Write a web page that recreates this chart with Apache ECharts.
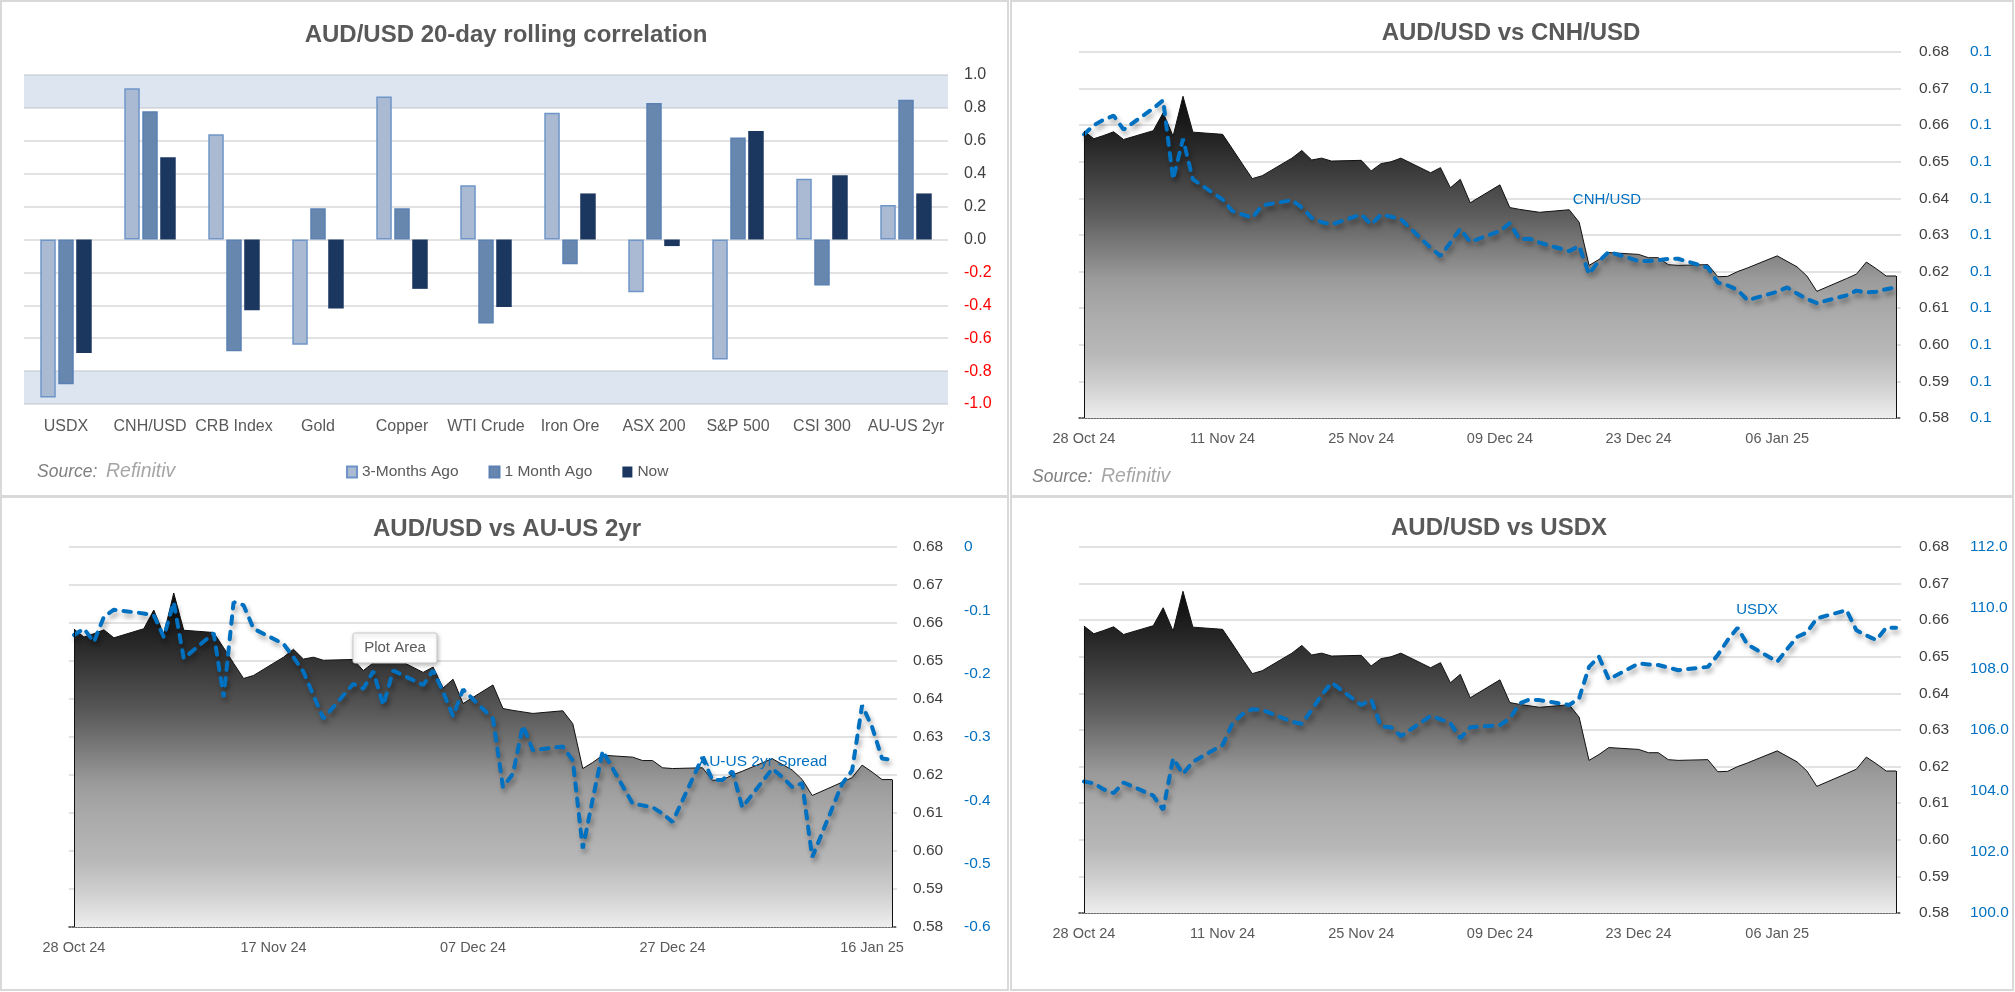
<!DOCTYPE html>
<html><head><meta charset="utf-8">
<script src="https://cdn.jsdelivr.net/npm/echarts@6/dist/echarts.min.js"></script>
<style>html,body{margin:0;padding:0;background:#fff}#c{width:2015px;height:992px}</style>
</head><body><div id="c"></div>
<script>
// ---------- Panel 1: correlation bars ----------
const corrCategories = ['USDX','CNH/USD','CRB Index','Gold','Copper','WTI Crude','Iron Ore','ASX 200','S&P 500','CSI 300','AU-US 2yr'];
const corr3M  = [-0.96, 0.92, 0.64, -0.64, 0.87, 0.33, 0.77, -0.32, -0.73, 0.37, 0.21];
const corr1M  = [-0.88, 0.78, -0.68, 0.19, 0.19, -0.51, -0.15, 0.83, 0.62, -0.28, 0.85];
const corrNow = [-0.69, 0.50, -0.43, -0.42, -0.30, -0.41, 0.28, -0.04, 0.66, 0.39, 0.28];
const corrSeriesNames = ['3-Months Ago','1 Month Ago','Now'];

// ---------- Time series (daily) ----------
const dates = ['2024-10-28','2024-10-29','2024-10-30','2024-10-31','2024-11-01',
'2024-11-04','2024-11-05','2024-11-06','2024-11-07','2024-11-08',
'2024-11-11','2024-11-12','2024-11-13','2024-11-14','2024-11-15',
'2024-11-18','2024-11-19','2024-11-20','2024-11-21','2024-11-22',
'2024-11-25','2024-11-26','2024-11-27','2024-11-28','2024-11-29',
'2024-12-02','2024-12-03','2024-12-04','2024-12-05','2024-12-06',
'2024-12-09','2024-12-10','2024-12-11','2024-12-12','2024-12-13',
'2024-12-16','2024-12-17','2024-12-18','2024-12-19','2024-12-20',
'2024-12-23','2024-12-24','2024-12-25','2024-12-26','2024-12-27',
'2024-12-30','2024-12-31','2025-01-01','2025-01-02','2025-01-03',
'2025-01-06','2025-01-07','2025-01-08','2025-01-09','2025-01-10',
'2025-01-13','2025-01-14','2025-01-15','2025-01-16','2025-01-17',
'2025-01-18'];
const audusd = [0.6584,0.6563,0.6572,0.6582,0.6561,
0.6585,0.6634,0.6570,0.6679,0.6581,
0.6575,0.6535,0.6494,0.6454,0.6462,
0.6510,0.6531,0.6505,0.6510,0.6502,
0.6504,0.6475,0.6495,0.6500,0.6510,
0.6470,0.6484,0.6429,0.6452,0.6388,
0.6437,0.6375,0.6370,0.6366,0.6362,
0.6369,0.6335,0.6217,0.6233,0.6252,
0.6247,0.6238,0.6238,0.6219,0.6217,
0.6219,0.6186,0.6187,0.6200,0.6210,
0.6243,0.6228,0.6213,0.6188,0.6146,
0.6181,0.6193,0.6226,0.6208,0.6188,
0.6188];
const cnhusd = [0.14075,0.14100,0.14115,0.14126,0.14088,
0.14146,0.14168,0.13952,0.14063,0.13952,
0.13897,0.13865,0.13856,0.13847,0.13881,
0.13895,0.13875,0.13847,0.13835,0.13829,
0.13856,0.13829,0.13856,0.13850,0.13843,
0.13765,0.13743,0.13779,0.13817,0.13781,
0.13811,0.13832,0.13788,0.13790,0.13779,
0.13756,0.13770,0.13693,0.13729,0.13754,
0.13729,0.13729,0.13731,0.13735,0.13735,
0.13711,0.13670,0.13662,0.13650,0.13622,
0.13645,0.13657,0.13640,0.13625,0.13614,
0.13635,0.13648,0.13643,0.13645,0.13652,
0.13657];
const auus2ySpread = [-0.139,-0.129,-0.150,-0.110,-0.099,
-0.105,-0.108,-0.142,-0.087,-0.176,
-0.136,-0.237,-0.087,-0.092,-0.129,
-0.153,-0.174,-0.197,-0.234,-0.271,
-0.216,-0.224,-0.196,-0.250,-0.195,
-0.218,-0.195,-0.229,-0.267,-0.225,
-0.271,-0.379,-0.358,-0.282,-0.321,
-0.315,-0.337,-0.476,-0.398,-0.322,
-0.405,-0.408,-0.411,-0.421,-0.434,
-0.332,-0.368,-0.368,-0.354,-0.411,
-0.350,-0.363,-0.379,-0.373,-0.490,
-0.374,-0.353,-0.250,-0.284,-0.334,
-0.336];
const usdx = [104.31,104.25,104.05,103.93,104.28,
103.85,103.38,105.07,104.56,104.96,
105.51,106.22,106.52,106.68,106.66,
106.27,106.20,106.66,107.15,107.55,
106.82,107.00,106.11,106.09,105.80,
106.46,106.35,106.22,105.73,106.09,
106.16,106.38,106.87,107.00,106.98,
106.82,107.04,108.07,108.40,107.66,
108.18,108.15,108.13,108.05,107.96,
108.07,108.46,108.95,109.35,108.80,
108.24,108.65,109.05,109.20,109.66,
109.93,109.27,109.10,108.95,109.35,
109.35];

const labelDays14 = [0,14,28,42,56,70];
const labelDays20 = [0,20,40,60,80];
const AUD_MIN = 0.58, AUD_MAX = 0.68;

// ---------- helpers ----------
const FONT = '"Liberation Sans", Arial, sans-serif';
const MON = ['Jan','Feb','Mar','Apr','May','Jun','Jul','Aug','Sep','Oct','Nov','Dec'];
const BASE = Date.UTC(2024, 9, 28);
function dayIndex(s){ const p = s.split('-').map(Number); return Math.round((Date.UTC(p[0],p[1]-1,p[2]) - BASE)/86400000); }
function fmtDay(v){ const d = new Date(BASE + Math.round(v)*86400000);
  return String(d.getUTCDate()).padStart(2,'0') + ' ' + MON[d.getUTCMonth()] + ' ' + String(d.getUTCFullYear()).slice(2); }
const dayX = dates.map(dayIndex);
const pairs = vals => vals.map((v,i) => [dayX[i], v]);

const areaGradient = {type:'linear', x:0, y:0, x2:0, y2:1, colorStops:[
  {offset:0, color:'#0a0a0a'}, {offset:0.16, color:'#2a2a2a'}, {offset:0.36, color:'#5a5a5a'},
  {offset:0.57, color:'#9b9b9b'}, {offset:0.66, color:'#a9a9a9'}, {offset:0.8, color:'#b8b8b8'},
  {offset:0.9, color:'#d0d0d0'}, {offset:1, color:'#eeeeee'}]};

function areaSeries(xi, yi){
  const n = audusd.length - 1;
  return {type:'line', name:'AUD/USD', xAxisIndex:xi, yAxisIndex:yi, data:pairs(audusd),
    showSymbol:false, symbol:'none', z:2,
    lineStyle:{color:'#111', width:1}, areaStyle:{color:areaGradient, opacity:1, origin:'start'},
    markLine:{silent:true, symbol:['none','none'], label:{show:false},
      lineStyle:{color:'#111', width:1, type:'solid'},
      data:[[{coord:[dayX[0], AUD_MIN]},{coord:[dayX[0], audusd[0]]}],
            [{coord:[dayX[n], AUD_MIN]},{coord:[dayX[n], audusd[n]]}]]}};
}
function dashSeries(name, xi, yi, vals){
  return {type:'line', name:name, xAxisIndex:xi, yAxisIndex:yi, data:pairs(vals),
    showSymbol:false, symbol:'none', z:3,
    lineStyle:{color:'#0070C0', width:4, type:[7.5,8], cap:'round',
      shadowColor:'rgba(0,0,0,0.35)', shadowBlur:5, shadowOffsetX:2, shadowOffsetY:4}};
}
function timeXAxis(gi, customDays){
  return {gridIndex:gi, type:'value', min:-0.5, max:82.5,
    splitLine:{show:false}, axisTick:{show:false},
    axisLine:{show:true, onZero:false, lineStyle:{color:'#404040', type:'dotted', width:1.5}},
    axisLabel:{customValues:customDays, formatter:fmtDay, color:'#595959', fontSize:14.5, margin:13, fontFamily:FONT}};
}
function audYAxis(gi, margin){
  return {gridIndex:gi, type:'value', position:'right', min:AUD_MIN, max:AUD_MAX, interval:0.01,
    axisLine:{show:false}, axisTick:{show:false},
    splitLine:{show:true, lineStyle:{color:'#d9d9d9', width:1.5}},
    axisLabel:{formatter:v=>v.toFixed(2), color:'#404040', fontSize:15.5, margin:margin, fontFamily:FONT}};
}
function secYAxis(gi, min, max, interval, fmt, margin){
  return {gridIndex:gi, type:'value', position:'right', min:min, max:max, interval:interval,
    axisLine:{show:false}, axisTick:{show:false}, splitLine:{show:false},
    axisLabel:{formatter:fmt, color:'#0070C0', fontSize:15.5, margin:margin, fontFamily:FONT}};
}
function txt(x, y, text, o){
  o = o || {};
  return {type:'text', x:x, y:y, z:o.z || 50, silent:true, style:{text:text, fill:o.fill || '#595959',
    fontSize:o.fontSize || 15, fontWeight:o.fontWeight || 'normal', fontStyle:o.fontStyle || 'normal',
    fontFamily:FONT, align:o.align || 'left', verticalAlign:'middle'}};
}
function border(x, y, w, h){
  return {type:'rect', silent:true, z:0, shape:{x:x, y:y, width:w, height:h},
    style:{fill:'none', stroke:'#d9d9d9', lineWidth:2}};
}

const chart = echarts.init(document.getElementById('c'), null, {renderer:'canvas'});
chart.setOption({
  animation:false,
  backgroundColor:'#ffffff',
  textStyle:{fontFamily:FONT},
  legend:{data:corrSeriesNames, left:346, top:464, padding:0, itemWidth:10, itemHeight:11, itemGap:30,
    icon:'rect', textStyle:{fontSize:15.5, color:'#595959', fontFamily:FONT}},
  grid:[
    {left:24, top:75, width:924, height:329},
    {left:1079, top:52, width:822, height:366},
    {left:69, top:547, width:828, height:380},
    {left:1079, top:547, width:822, height:366}
  ],
  xAxis:[
    {gridIndex:0, type:'category', data:corrCategories,
      axisLine:{show:false, onZero:false}, axisTick:{show:false}, splitLine:{show:false},
      axisLabel:{color:'#595959', fontSize:16, margin:15, fontFamily:FONT, interval:0}},
    timeXAxis(1, labelDays14),
    timeXAxis(2, labelDays20),
    timeXAxis(3, labelDays14)
  ],
  yAxis:[
    {gridIndex:0, type:'value', position:'right', min:-1, max:1, interval:0.2,
      axisLine:{show:false}, axisTick:{show:false},
      splitLine:{show:true, lineStyle:{color:'#d9d9d9', width:1.5}},
      axisLabel:{margin:16, fontSize:16, fontFamily:FONT,
        formatter:v=>Math.abs(v)<1e-9 ? '0.0' : v.toFixed(1),
        color:v=>(Number(v) < -1e-9 ? '#ff0000' : '#404040')}},
    audYAxis(1, 18),
    secYAxis(1, 0.133, 0.143, 0.001, v=>v.toFixed(1), 69),
    audYAxis(2, 16),
    secYAxis(2, -0.6, 0, 0.1, v=>Math.abs(v)<1e-9 ? '0' : v.toFixed(1), 67),
    audYAxis(3, 18),
    secYAxis(3, 100, 112, 2, v=>v.toFixed(1), 69)
  ],
  series:[
    {type:'bar', name:corrSeriesNames[0], xAxisIndex:0, yAxisIndex:0, data:corr3M, barWidth:15.5, barGap:'16%',
      itemStyle:{color:'#a9bad2', borderColor:'#6f95c8', borderWidth:1.5},
      markArea:{silent:true, itemStyle:{color:'rgba(180,198,225,0.45)'},
        data:[[{yAxis:0.8},{yAxis:1}],[{yAxis:-1},{yAxis:-0.8}]]}},
    {type:'bar', name:corrSeriesNames[1], xAxisIndex:0, yAxisIndex:0, data:corr1M, barWidth:15.5, barGap:'16%',
      itemStyle:{color:'#6787ae', borderColor:'#5a80b4', borderWidth:1.5}},
    {type:'bar', name:corrSeriesNames[2], xAxisIndex:0, yAxisIndex:0, data:corrNow, barWidth:15.5, barGap:'16%',
      itemStyle:{color:'#1b365f'}},
    areaSeries(1, 1),
    dashSeries('CNH/USD', 1, 2, cnhusd),
    areaSeries(2, 3),
    dashSeries('AU-US 2yr Spread', 2, 4, auus2ySpread),
    areaSeries(3, 5),
    dashSeries('USDX', 3, 6, usdx)
  ],
  graphic:[
    border(1, 1, 1007, 495), border(1011, 1, 1002, 495),
    border(1, 497, 1007, 493), border(1011, 497, 1002, 493),
    txt(506, 35, 'AUD/USD 20-day rolling correlation', {fontSize:24, fontWeight:'bold', align:'center'}),
    txt(1511, 33, 'AUD/USD vs CNH/USD', {fontSize:24, fontWeight:'bold', align:'center'}),
    txt(507, 529, 'AUD/USD vs AU-US 2yr', {fontSize:24, fontWeight:'bold', align:'center'}),
    txt(1499, 528, 'AUD/USD vs USDX', {fontSize:24, fontWeight:'bold', align:'center'}),
    txt(37, 472, 'Source:', {fontSize:17.5, fontStyle:'italic', fill:'#7f7f7f'}),
    txt(106, 472, 'Refinitiv', {fontSize:19.5, fontStyle:'italic', fill:'#a6a6a6'}),
    txt(1032, 477, 'Source:', {fontSize:17.5, fontStyle:'italic', fill:'#7f7f7f'}),
    txt(1101, 477, 'Refinitiv', {fontSize:19.5, fontStyle:'italic', fill:'#a6a6a6'}),
    txt(1607, 200, 'CNH/USD', {fill:'#0070C0', align:'center'}),
    txt(1757, 610, 'USDX', {fill:'#0070C0', align:'center'}),
    txt(763, 762, 'AU-US 2yr Spread', {fill:'#0070C0', align:'center', fontSize:15.5}),
    {type:'rect', silent:true, z:100, shape:{x:353, y:633, width:84, height:30, r:2},
      style:{fill:'#ffffff', stroke:'#c8c8c8', lineWidth:1, shadowBlur:4, shadowColor:'rgba(0,0,0,0.25)', shadowOffsetX:1, shadowOffsetY:2}},
    txt(395, 648, 'Plot Area', {z:101, align:'center', fill:'#595959'})
  ]
});
</script>
</body></html>
